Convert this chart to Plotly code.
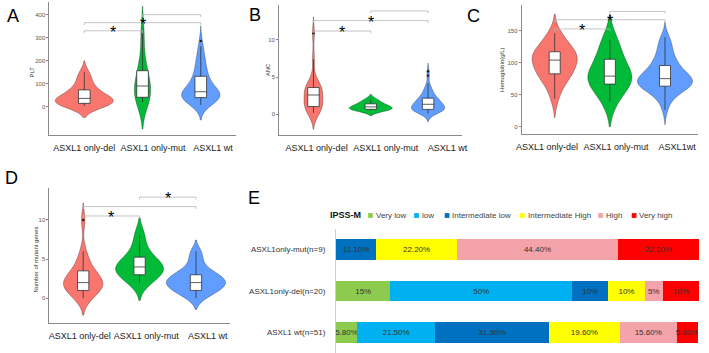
import plotly.graph_objects as go

W, H = 709, 353
FONT = "Liberation Sans, Arial, sans-serif"

# ---------------- data ----------------
groups = ["ASXL1 only-del", "ASXL1 only-mut", "ASXL1 wt"]
groups_c = ["ASXL1 only-del", "ASXL1 only-mut", "ASXL1wt"]
group_colors = ["#F8766D", "#00BA38", "#619CFF"]

# A: PLT
plt_del = [3, 6, 9, 12, 14, 15, 18, 24, 30, 34, 38, 42, 48, 55, 70, 76, 90, 110, 130, 150]
plt_mut = [20, 35, 43, 70, 90, 120, 142, 200, 320]
plt_wt = [8, 12, 16, 20, 24, 27, 30, 33, 35, 36, 37, 38, 39, 41,
          43, 45, 47, 49, 51, 53, 55, 57, 59, 61, 63, 65,
          68, 72, 76, 80, 85, 90, 96, 102, 108, 114, 120, 126, 134,
          142, 150, 158, 168, 178, 190, 200, 212, 225, 240, 262, 285]

# B: ANC
anc_del = [0.2, 0.4, 0.6, 0.9, 1.0, 1.1, 1.3, 1.6, 2.0, 2.4, 2.8, 3.0, 3.2, 3.4, 3.5, 3.7, 4.0, 4.4, 7.4, 10.9]
anc_mut = [0.5, 0.6, 0.7, 0.8, 1.0, 1.1, 1.35, 1.6, 2.0]
anc_wt = [0.1, 0.2, 0.3, 0.35, 0.4, 0.45, 0.5, 0.52, 0.55, 0.58, 0.6, 0.63, 0.65, 0.69,
          0.72, 0.76, 0.8, 0.85, 0.9, 0.95, 1.0, 1.05, 1.12, 1.2, 1.28, 1.35,
          1.4, 1.45, 1.5, 1.56, 1.62, 1.7, 1.78, 1.85, 1.92, 1.98, 2.05, 2.1, 2.2,
          2.3, 2.45, 2.6, 2.75, 2.9, 3.1, 3.3, 3.5, 3.6, 4.2, 5.2, 5.8]

# C: Hemoglobin
hb_del = [44, 60, 70, 78, 82, 83, 86, 92, 98, 102, 106, 108, 110, 112, 116, 118, 124, 130, 138, 146]
hb_mut = [39, 62, 68, 74, 79, 88, 101, 118, 136]
hb_wt = [26, 35, 42, 47, 51, 54, 56, 58, 59, 60, 61, 62, 63, 64,
         65, 66, 67, 68, 69, 70, 71, 72, 73, 74, 74.5, 75,
         76, 77, 78, 79, 80, 82, 84, 86, 88, 90, 92, 94, 96,
         98, 101, 104, 107, 110, 114, 118, 123, 128, 132, 136, 140]

# D: Number of mutant genes
nm_del = [0, 0, 1, 1, 1, 1, 2, 2, 2, 2, 2, 2, 3, 3, 3, 4, 4, 5, 6, 10]
nm_mut = [2, 3, 3, 4, 4, 4, 5, 6, 8]
nm_wt = [0, 0, 0, 0, 1, 1, 1, 1, 1, 1, 1, 1, 1, 1,
         1, 2, 2, 2, 2, 2, 2, 2, 2, 2, 2, 2,
         2, 2, 2, 2, 3, 3, 3, 3, 3, 3, 3, 3, 3,
         3, 3, 4, 4, 4, 4, 5, 5, 5, 6, 6, 6]

# E: IPSS-M distribution (%)
ipss_rows = ["ASXL1only-mut(n=9)", "ASXL1only-del(n=20)", "ASXL1 wt(n=51)"]
ipss_cats = ["Very low", "low", "Intermediate low", "Intermediate High", "High", "Very high"]
ipss_very_low = [0, 15, 5.8]
ipss_low = [0, 50, 21.5]
ipss_int_low = [11.1, 10, 31.3]
ipss_int_high = [22.2, 10, 19.6]
ipss_high = [44.4, 5, 15.6]
ipss_very_high = [22.2, 10, 5.8]
ipss_colors = ["#8DCB4E", "#00B0F0", "#0070C0", "#FFFF00", "#F4A3AB", "#FF0000"]
row_fmt = ["{:.2f}%", "{:.0f}%", "{:.2f}%"]

# ---------------- helpers ----------------
def fx(p):
    return p / W


def fy(p):
    return 1 - p / H


panels = [
    dict(letter="A", pos=(8.5, 16), data=[plt_del, plt_mut, plt_wt], vw=[1.0, 0.28, 0.66],
         xdom=(45, 234), ydom=(2, 135), yr=(-123, 455), yt=[0, 100, 200, 300, 400],
         xt=[0, 1.18, 2.21], lab=groups, br=[330, 365, 400], stars=[True, True, False],
         title="PLT", tpos=(27, 72)),
    dict(letter="B", pos=(254, 15), data=[anc_del, anc_mut, anc_wt], vw=[0.33, 0.75, 0.58],
         xdom=(278, 464), ydom=(5, 135), yr=(-2.78, 14.7), yt=[0, 5, 10],
         xt=[0.055, 1.26, 2.34], lab=groups, br=[11.2, 12.6, 13.9], stars=[True, True, False],
         title="ANC", tpos=(267, 70)),
    dict(letter="C", pos=(475.6, 15.5), data=[hb_del, hb_mut, hb_wt], vw=[0.82, 0.8, 1.0],
         xdom=(524, 703), ydom=(5, 134.3), yr=(-11.9, 190), yt=[0, 50, 100, 150],
         xt=[-0.14, 1.11, 2.22], lab=groups_c, br=[152.6, 167, 180], stars=[True, True, False],
         title="Hemoglobin(g/L)", tpos=(504, 70)),
    dict(letter="D", pos=(7, 178), data=[nm_del, nm_mut, nm_wt], vw=[0.7, 0.85, 1.05],
         xdom=(45, 228), ydom=(188, 323.3), yr=(-3.19, 14.07), yt=[0, 5, 10],
         xt=[-0.06, 1.12, 2.21], lab=groups, br=[10.5, 11.7, 12.9], stars=[True, False, True],
         title="Number of mutant genes", tpos=(31, 260)),
]
pairs = [(0, 1), (0, 2), (1, 2)]

fig = go.Figure()
shapes = []
annotations = []
axis_col = "#8a8a8a"

for i, p in enumerate(panels):
    n = i + 1
    xa = "x" if n == 1 else f"x{n}"
    ya = "y" if n == 1 else f"y{n}"
    for g in range(3):
        fig.add_trace(go.Violin(
            y=p["data"][g], x0=g, width=p["vw"][g], name=groups[g],
            fillcolor=group_colors[g], line=dict(color="rgba(0,0,0,0.45)", width=0.6),
            points=False, box_visible=False, meanline_visible=False, opacity=1,
            spanmode="soft", hoverinfo="skip", xaxis=xa, yaxis=ya))
        fig.add_trace(go.Box(
            y=p["data"][g], x0=g, width=0.2, name=groups[g],
            fillcolor="white", line=dict(color="#333333", width=0.8), whiskerwidth=0,
            boxpoints="outliers", pointpos=0, jitter=0,
            marker=dict(color="#222222", size=2.5), hoverinfo="skip",
            xaxis=xa, yaxis=ya))
    xkey = "xaxis" if n == 1 else f"xaxis{n}"
    ykey = "yaxis" if n == 1 else f"yaxis{n}"
    fig.update_layout(**{
        xkey: dict(domain=[fx(p["xdom"][0]), fx(p["xdom"][1])], range=[-0.6, 2.6],
                   anchor=ya, showline=True, linecolor=axis_col, linewidth=0.8,
                   tickmode="array", tickvals=p["xt"], ticktext=p["lab"], ticks="",
                   ticklabelstandoff=4,
                   tickfont=dict(size=9, color="#222222", family=FONT),
                   showgrid=False, zeroline=False, fixedrange=True),
        ykey: dict(domain=[fy(p["ydom"][1]), fy(p["ydom"][0])], range=list(p["yr"]),
                   anchor=xa, showline=True, linecolor=axis_col, linewidth=0.8,
                   tickmode="array", tickvals=p["yt"], ticks="outside", ticklen=2,
                   tickcolor=axis_col, tickwidth=0.6,
                   tickfont=dict(size=6, color="#555555", family=FONT),
                   showgrid=False, zeroline=False, fixedrange=True),
    })
    # significance brackets
    span = p["yr"][1] - p["yr"][0]
    tip = 0.018 * span
    for (a, b), lvl, st in zip(pairs, p["br"], p["stars"]):
        shapes.append(dict(type="path", xref=xa, yref=ya, layer="above",
                           path=f"M {a},{lvl - tip} L {a},{lvl} L {b},{lvl} L {b},{lvl - tip}",
                           line=dict(color="#b5b5b5", width=0.8)))
        if st:
            annotations.append(dict(x=(a + b) / 2, y=lvl, xref=xa, yref=ya, text="*",
                                    showarrow=False, yanchor="middle", xanchor="center",
                                    yshift=-1.5,
                                    font=dict(size=16, color="black", family=FONT)))
    # panel letter
    annotations.append(dict(x=fx(p["pos"][0]), y=fy(p["pos"][1]), xref="paper", yref="paper",
                            text=p["letter"], showarrow=False, xanchor="center", yanchor="middle",
                            font=dict(size=18, color="black", family=FONT)))
    # y title
    annotations.append(dict(x=fx(p["tpos"][0]), y=fy(p["tpos"][1]), xref="paper", yref="paper",
                            text=p["title"], showarrow=False, textangle=-90,
                            xanchor="center", yanchor="middle",
                            font=dict(size=6, color="#333333", family=FONT)))

# ---------------- panel E ----------------
series = [ipss_very_low, ipss_low, ipss_int_low, ipss_int_high, ipss_high, ipss_very_high]
for cat, vals, col in zip(ipss_cats, series, ipss_colors):
    txt = [("" if v == 0 else row_fmt[r].format(v)) for r, v in enumerate(vals)]
    fig.add_trace(go.Bar(
        x=vals, y=ipss_rows, orientation="h", name=cat, width=0.5,
        marker=dict(color=col, line=dict(width=0)),
        text=txt, textposition="inside", insidetextanchor="middle", textangle=0,
        constraintext="none", insidetextfont=dict(size=8, color="#333333", family=FONT),
        hoverinfo="skip", xaxis="x5", yaxis="y5"))

fig.update_layout(
    barmode="stack",
    xaxis5=dict(domain=[fx(335.7), fx(704)], range=[0, 100], anchor="y5", visible=False,
                fixedrange=True),
    yaxis5=dict(domain=[fy(353), fy(229)], anchor="x5", categoryorder="array",
                categoryarray=ipss_rows, range=[2.5, -0.5], showline=True,
                linecolor="#d0d0d0", linewidth=1, ticks="", ticklabelstandoff=8,
                tickfont=dict(size=8, color="#333333", family=FONT), showgrid=False,
                zeroline=False, fixedrange=True),
)

annotations.append(dict(x=fx(252.7), y=fy(197.5), xref="paper", yref="paper", text="E",
                        showarrow=False, xanchor="center", yanchor="middle",
                        font=dict(size=18, color="black", family=FONT)))
annotations.append(dict(x=fx(327.5), y=fy(215.5), xref="paper", yref="paper",
                        text="<b>IPSS-M</b>", showarrow=False, xanchor="left", yanchor="middle",
                        font=dict(size=9, color="#111111", family=FONT)))
legend_x = [368.3, 415, 446, 522.3, 601.7, 635.7]
sq = 4.8
ly = 215.5
for cat, col, lx in zip(ipss_cats, ipss_colors, legend_x):
    shapes.append(dict(type="rect", xref="paper", yref="paper",
                       x0=fx(lx), x1=fx(lx + sq), y0=fy(ly + sq / 2), y1=fy(ly - sq / 2),
                       fillcolor=col, line=dict(width=0)))
    annotations.append(dict(x=fx(lx + sq + 1), y=fy(ly), xref="paper", yref="paper",
                            text=cat, showarrow=False, xanchor="left", yanchor="middle",
                            font=dict(size=8, color="#444444", family=FONT)))

fig.update_layout(
    width=W, height=H, margin=dict(l=0, r=0, t=0, b=0),
    paper_bgcolor="white", plot_bgcolor="white", showlegend=False,
    violinmode="overlay", boxmode="overlay",
    shapes=shapes, annotations=annotations,
    font=dict(family=FONT),
)

fig.write_html("out.html")
